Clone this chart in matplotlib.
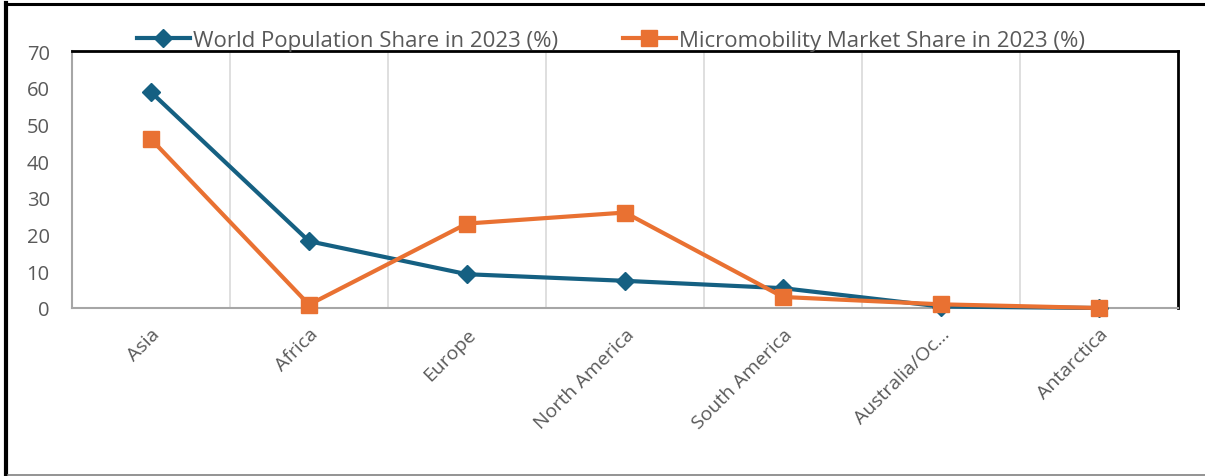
import matplotlib
matplotlib.use("Agg")
import matplotlib.pyplot as plt
from matplotlib.lines import Line2D

categories = ["Asia", "Africa", "Europe", "North America", "South America",
              "Australia/Oc\u2026", "Antarctica"]
world_pop = [58.8, 18.2, 9.2, 7.4, 5.4, 0.4, 0.0]
micro_share = [46, 0.9, 23, 26, 3.0, 1.0, 0.0]
series_names = ["World Population Share in 2023 (%)",
                "Micromobility Market Share in 2023 (%)"]
yticks = [0, 10, 20, 30, 40, 50, 60, 70]

BLUE = "#156082"
ORANGE = "#E97132"
GRAY_TXT = "#595959"

plt.rcParams['font.family'] = ['Open Sans', 'DejaVu Sans']

fig = plt.figure(figsize=(12.05, 4.77), dpi=100)
W, H = 1205, 477
left, right, top, bottom = 72, 1178, 52, 309
ax = fig.add_axes([left / W, 1 - bottom / H, (right - left) / W, (bottom - top) / H])

x = list(range(len(categories)))
ax.plot(x, world_pop, color=BLUE, lw=3, marker='D', markersize=9,
        label=series_names[0], zorder=3, clip_on=False)
ax.plot(x, micro_share, color=ORANGE, lw=3, marker='s', markersize=12,
        label=series_names[1], zorder=4, clip_on=False)

ax.set_xlim(-0.5, len(categories) - 0.5)
ax.set_ylim(0, 70)
ax.set_yticks(yticks)
ax.set_xticks(x)
ax.set_xticklabels(categories, rotation=45, ha='right', va='top',
                   rotation_mode='anchor', fontsize=14, color=GRAY_TXT)
ax.tick_params(axis='y', labelsize=14.5, colors=GRAY_TXT, length=0, pad=16)
ax.tick_params(axis='x', length=0, pad=12)

# vertical gridlines at category boundaries
for b in range(1, len(categories)):
    ax.axvline(b - 0.5, color="#D9D9D9", lw=1.2, zorder=1)

for s in ['left', 'bottom']:
    ax.spines[s].set_color("#A6A6A6")
    ax.spines[s].set_linewidth(1.5)
for s in ['top', 'right']:
    ax.spines[s].set_color("black")
    ax.spines[s].set_linewidth(2)

leg = fig.legend(loc='center', bbox_to_anchor=(611 / W, 1 - 41 / H), ncol=2,
                 frameon=False, fontsize=16, handlelength=2.4,
                 handletextpad=0.15, columnspacing=2.9, labelcolor=GRAY_TXT)

# outer border of the chart area
fig.add_artist(Line2D([6 / W, 6 / W], [0, 1 - 4 / H], color='black', lw=3))
fig.add_artist(Line2D([5 / W, 1], [1 - 4.5 / H, 1 - 4.5 / H], color='black', lw=2.2))
fig.add_artist(Line2D([8 / W, 1], [1.5 / H, 1.5 / H], color='#808080', lw=1.2))

fig.savefig("out.png", dpi=100)
